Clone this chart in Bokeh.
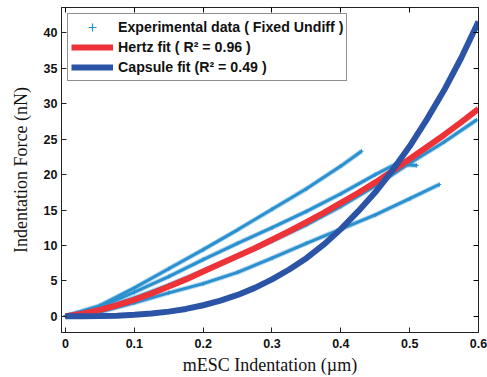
from bokeh.plotting import figure
from bokeh.models import Range1d, LinearAxis, FixedTicker, Legend, LegendItem
from bokeh.embed import file_html
from bokeh.resources import INLINE

# ---- data ----
fit_x = [0, 0.025, 0.05, 0.075, 0.1, 0.125, 0.15, 0.175, 0.2, 0.225, 0.25, 0.275, 0.3,
         0.325, 0.35, 0.375, 0.4, 0.425, 0.45, 0.475, 0.5, 0.525, 0.55, 0.575, 0.6]
hertz_y = [0, 0.35, 0.9, 1.55, 2.3, 3.2, 4.2, 5.2, 6.3, 7.4, 8.5, 9.6, 10.8,
           12.0, 13.3, 14.6, 16.0, 17.4, 18.9, 20.5, 22.2, 23.9, 25.6, 27.4, 29.3]
capsule_y = [0, 0.0, 0.03, 0.08, 0.2, 0.38, 0.65, 1.03, 1.55, 2.2, 3.0, 4.0, 5.2,
             6.6, 8.2, 10.1, 12.3, 14.8, 17.5, 20.6, 24.0, 27.8, 31.9, 36.5, 41.6]

exp_a_x = [0, 0.05, 0.1, 0.15, 0.2, 0.25, 0.3, 0.35, 0.4, 0.43]
exp_a_y = [0, 1.5, 4.0, 6.7, 9.4, 12.2, 15.1, 18.0, 21.2, 23.3]

exp_b_x = [0, 0.05, 0.1, 0.15, 0.2, 0.25, 0.3, 0.35, 0.4, 0.45, 0.48, 0.51]
exp_b_y = [0, 1.3, 3.4, 5.6, 8.0, 10.3, 12.5, 14.8, 17.3, 20.0, 21.5, 21.3]

exp_c_x = [0, 0.05, 0.1, 0.15, 0.2, 0.25, 0.3, 0.35, 0.4, 0.45, 0.5, 0.55, 0.597]
exp_c_y = [0, 1.0, 2.6, 4.4, 6.4, 8.5, 10.6, 12.9, 15.5, 18.4, 21.6, 24.6, 27.7]

exp_d_x = [0, 0.05, 0.1, 0.15, 0.2, 0.25, 0.3, 0.35, 0.4, 0.45, 0.5, 0.543]
exp_d_y = [0, 0.6, 1.9, 3.3, 4.6, 6.2, 8.2, 10.3, 12.3, 14.3, 16.6, 18.6]

x_ticks = [0, 0.1, 0.2, 0.3, 0.4, 0.5, 0.6]
y_ticks = [0, 5, 10, 15, 20, 25, 30, 35, 40]

legend_labels = ["Experimental data ( Fixed Undiff )",
                 "Hertz fit ( R\u00b2 = 0.96 )",
                 "Capsule fit (R\u00b2 = 0.49 )"]

EXP_COL = "#2a90cf"
RED = "#ee3338"
CAP = "#2b54a6"
TICK_FONT = "Liberation Sans"
LABEL_FONT = "Liberation Serif"

p = figure(width=487, height=377, output_backend="svg", toolbar_location=None,
           x_range=Range1d(-0.0058, 0.6), y_range=Range1d(-2.3, 43.6),
           min_border_left=61, min_border_right=9, min_border_top=7,
           min_border_bottom=44)
p.xgrid.visible = False
p.ygrid.visible = False
p.outline_line_color = "#222222"
p.outline_line_width = 1
p.background_fill_color = "white"
p.border_fill_color = "white"

# experimental curves
exp_renderers = []
for xs, ys in [(exp_a_x, exp_a_y), (exp_b_x, exp_b_y), (exp_c_x, exp_c_y), (exp_d_x, exp_d_y)]:
    p.line(xs, ys, line_color=EXP_COL, line_width=5, line_alpha=0.35)
    p.line(xs, ys, line_color=EXP_COL, line_width=3)
    r = p.scatter(xs, ys, marker="cross", size=4, line_color=EXP_COL, line_width=1.2)
    exp_renderers.append(r)

hertz = p.line(fit_x, hertz_y, line_color=RED, line_width=6)
capsule = p.line(fit_x, capsule_y, line_color=CAP, line_width=6)

# axes
for ax in (p.xaxis[0], p.yaxis[0]):
    ax.major_tick_in = 5
    ax.major_tick_out = 0
    ax.minor_tick_line_color = None
    ax.axis_line_color = "#222222"
    ax.major_tick_line_color = "#222222"
    ax.major_label_text_font = TICK_FONT
    ax.major_label_text_font_style = "bold"
    ax.major_label_text_font_size = "12.5px"
    ax.major_label_text_color = "#111111"
    ax.axis_label_text_font = LABEL_FONT
    ax.axis_label_text_font_style = "normal"
    ax.axis_label_text_font_size = "18px"
    ax.axis_label_text_color = "#111111"

p.xaxis[0].ticker = FixedTicker(ticks=x_ticks)
p.yaxis[0].ticker = FixedTicker(ticks=y_ticks)
p.xaxis[0].axis_label = "mESC Indentation (\u00b5m)"
p.yaxis[0].axis_label = "Indentation Force (nN)"
p.xaxis[0].major_label_standoff = 6
p.xaxis[0].axis_label_standoff = 4
p.yaxis[0].major_label_standoff = 4
p.yaxis[0].axis_label_standoff = 10

top_ax = LinearAxis(ticker=FixedTicker(ticks=x_ticks), major_label_text_font_size="1px",
                    major_label_text_color=None,
                    major_label_standoff=0, major_tick_in=5, major_tick_out=0,
                    minor_tick_line_color=None, axis_line_color="#222222")
right_ax = LinearAxis(ticker=FixedTicker(ticks=y_ticks), major_label_text_font_size="1px",
                      major_label_text_color=None,
                      major_label_standoff=0, major_tick_in=5, major_tick_out=0,
                      minor_tick_line_color=None, axis_line_color="#222222")
p.add_layout(top_ax, "above")
p.add_layout(right_ax, "right")

legend = Legend(items=[LegendItem(label=legend_labels[0], renderers=[exp_renderers[0]]),
                       LegendItem(label=legend_labels[1], renderers=[hertz]),
                       LegendItem(label=legend_labels[2], renderers=[capsule])],
                location="top_left")
legend.margin = 6
legend.padding = 3
legend.spacing = 0
legend.glyph_width = 42
legend.glyph_height = 20
legend.label_height = 20
legend.label_standoff = 5
legend.label_text_font = TICK_FONT
legend.label_text_font_style = "bold"
legend.label_text_font_size = "14.2px"
legend.label_text_color = "#111111"
legend.border_line_color = "#222222"
legend.border_line_width = 1
legend.background_fill_alpha = 1
p.add_layout(legend)

open("out.html", "w").write(file_html(p, INLINE))
